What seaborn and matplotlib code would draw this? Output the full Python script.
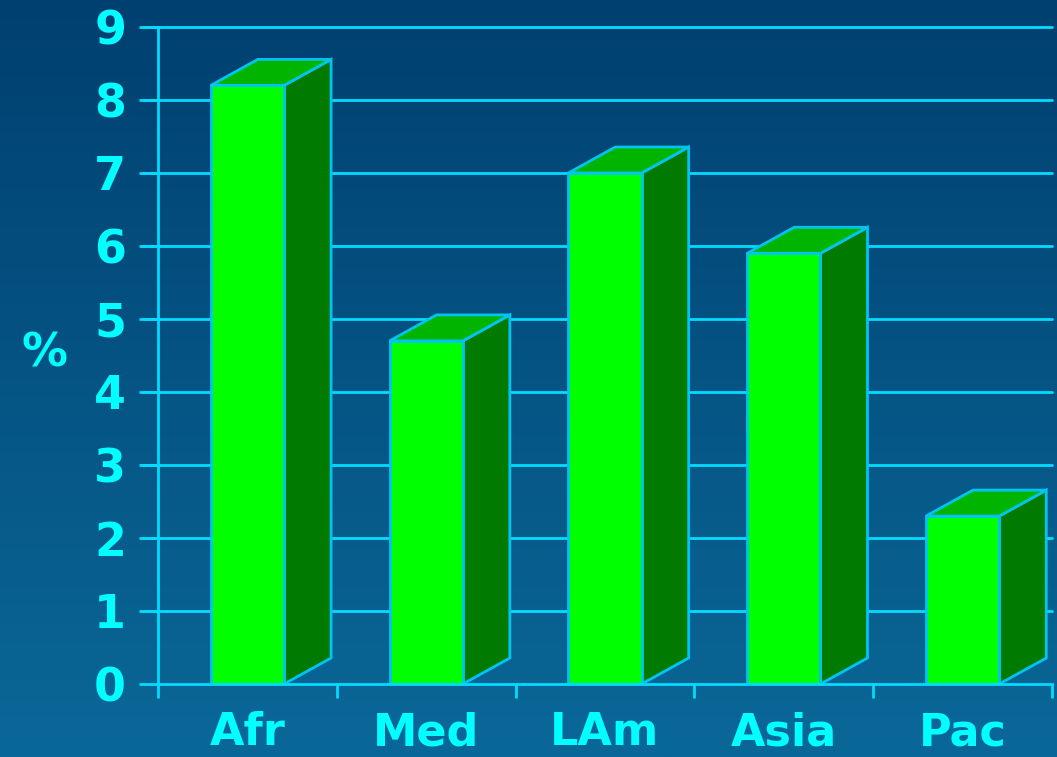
import numpy as np
import pandas as pd
import matplotlib
matplotlib.use("Agg")
import matplotlib.pyplot as plt
from matplotlib.patches import Polygon
import seaborn as sns

regions = ["Afr", "Med", "LAm", "Asia", "Pac"]
percent = [8.2, 4.7, 7.0, 5.9, 2.3]
y_ticks = [0, 1, 2, 3, 4, 5, 6, 7, 8, 9]

sns.set_theme(style="white")
plt.rcParams["font.family"] = ["DejaVu Sans"]
plt.rcParams["font.weight"] = "bold"

TEXT = "#00ffff"
GRID = "#00dcff"
EDGE = "#00c4f4"
FRONT = "#00ff00"
SIDE = "#007a00"
TOP = "#00b400"

fig = plt.figure(figsize=(10.57, 7.57), dpi=100)

# vertical background gradient
bg = fig.add_axes([0, 0, 1, 1], zorder=-10)
grad = np.linspace(0, 1, 256).reshape(-1, 1)
cmap = matplotlib.colors.LinearSegmentedColormap.from_list("bg", ["#004070", "#0a6898"])
bg.imshow(grad, aspect="auto", cmap=cmap, extent=[0, 1, 0, 1], origin="upper")
bg.set_axis_off()

W, H = 1057, 757
left, right, top, bottom = 158, 1052, 27, 684
ax = fig.add_axes([left / W, 1 - bottom / H, (right - left) / W, (bottom - top) / H])
ax.patch.set_alpha(0)

df = pd.DataFrame({"region": regions, "percent": percent})
sns.barplot(data=df, x="region", y="percent", color=FRONT, width=0.41,
            saturation=1, edgecolor=EDGE, linewidth=2, ax=ax, zorder=3)

ax.set_xlim(-0.5, len(regions) - 0.5)
ax.set_ylim(0, 9)

# depth of the 3D extrusion in data units
dx, dy = 0.263, 0.356
for bar in ax.patches:
    x0 = bar.get_x()
    w = bar.get_width()
    h = bar.get_height()
    x1 = x0 + w
    side = Polygon([(x1, 0), (x1 + dx, dy), (x1 + dx, h + dy), (x1, h)],
                   closed=True, facecolor=SIDE, edgecolor=EDGE, linewidth=2, zorder=2.5)
    topf = Polygon([(x0, h), (x0 + dx, h + dy), (x1 + dx, h + dy), (x1, h)],
                   closed=True, facecolor=TOP, edgecolor=EDGE, linewidth=2, zorder=2.5)
    ax.add_patch(side)
    ax.add_patch(topf)

# horizontal grid
for v in y_ticks[1:]:
    ax.axhline(v, color=GRID, linewidth=2, zorder=1, xmin=-0.016, clip_on=False)

ax.set_yticks(y_ticks)
ax.set_yticklabels([str(v) for v in y_ticks], color=TEXT, fontsize=33, fontweight="bold")
ax.tick_params(axis="y", length=14, width=2, color=GRID, pad=9, left=True)

# category ticks at boundaries, labels at centres
ax.set_xticks(np.arange(-0.5, len(regions), 1.0))
ax.set_xticklabels([])
ax.tick_params(axis="x", length=10, width=2, color=GRID, bottom=True)
for i, name in enumerate(regions):
    ax.text(i, -0.84, name, ha="center", va="baseline", color=TEXT,
            fontsize=32, fontweight="bold", transform=ax.transData, clip_on=False)

ax.set_xlabel("")
ax.set_ylabel("")
for s in ["top", "right"]:
    ax.spines[s].set_visible(False)
for s in ["left", "bottom"]:
    ax.spines[s].set_color(GRID)
    ax.spines[s].set_linewidth(2)
    ax.spines[s].set_zorder(4)

fig.text(44 / W, 1 - 354 / H, "%", ha="center", va="center", color=TEXT,
         fontsize=33, fontweight="bold")

fig.savefig("out.png", dpi=100)
